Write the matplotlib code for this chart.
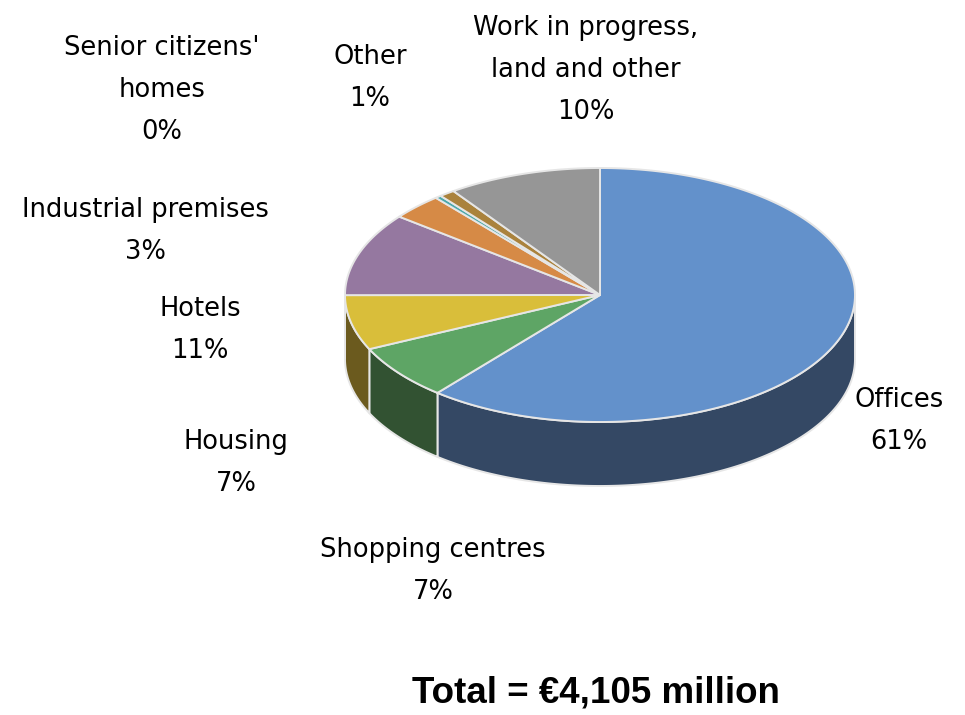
import numpy as np
import matplotlib.pyplot as plt
from matplotlib.patches import Polygon

# property portfolio by segment, EUR million
categories = ["Offices", "Shopping centres", "Housing", "Hotels",
              "Industrial premises", "Senior citizens'\nhomes", "Other",
              "Work in progress,\nland and other"]
values = [2504, 287, 287, 435, 135, 16, 41, 400]

top_colors = ["#6391CB", "#5EA565", "#D9BE3A", "#9578A0",
              "#D68A46", "#4BA8AA", "#AA823C", "#969696"]
side_colors = ["#344864", "#325232", "#6B5A1E", "#4A3C50",
               "#6B4523", "#255455", "#55411E", "#4B4B4B"]

# where each label block sits (figure pixels)
label_xy = [(899, 421), (433, 571), (236, 463), (200, 330),
            (145, 231), (162, 90), (370, 78), (586, 70)]

cx, cy = 600, 295      # centre of the top face
rx, ry = 255, 127      # ellipse radii
depth = 64             # thickness of the disc
edge = "#E6E6E6"

fig = plt.figure(figsize=(9.65, 7.15), dpi=100)
ax = fig.add_axes([0, 0, 1, 1])
ax.set_xlim(0, 965)
ax.set_ylim(715, 0)
ax.axis("off")


def arc(t1, t2, dy=0, n=200):
    t = np.radians(np.linspace(t1, t2, n))
    return np.column_stack([cx + rx * np.cos(t), cy - ry * np.sin(t) + dy])


vals = np.array(values, dtype=float)
total = vals.sum()
cum = np.concatenate([[0], np.cumsum(vals)]) / total
# start at 12 o'clock, go clockwise
theta_hi = 90 - 360 * cum[:-1]
theta_lo = 90 - 360 * cum[1:]

# side walls: only the front half (sin < 0) is visible
for lo, hi, col in zip(theta_lo, theta_hi, side_colors):
    for a, b in [(-180, 0), (180, 360)]:
        s, e = max(lo, a), min(hi, b)
        if e - s <= 0:
            continue
        top = arc(s, e)
        bot = arc(e, s, dy=depth)
        ax.add_patch(Polygon(np.vstack([top, bot]), closed=True,
                             facecolor=col, edgecolor=edge, lw=1.4,
                             joinstyle="round"))

# top faces
for lo, hi, col in zip(theta_lo, theta_hi, top_colors):
    pts = np.vstack([[cx, cy], arc(hi, lo)])
    ax.add_patch(Polygon(pts, closed=True, facecolor=col,
                         edgecolor=edge, lw=1.4, joinstyle="round"))

for name, v, (x, y) in zip(categories, vals, label_xy):
    pct = int(round(100 * v / total))
    ax.text(x, y, f"{name}\n{pct}%", ha="center", va="center",
            multialignment="center", fontsize=18.5, linespacing=1.82,
            family="DejaVu Sans", color="#000000")

ax.text(596, 693, f"Total = \u20ac{int(total):,} million", ha="center",
        va="center", fontsize=26.5, fontweight="bold",
        family="Liberation Sans", color="#000000")

fig.savefig("out.png", dpi=100, facecolor="white")
